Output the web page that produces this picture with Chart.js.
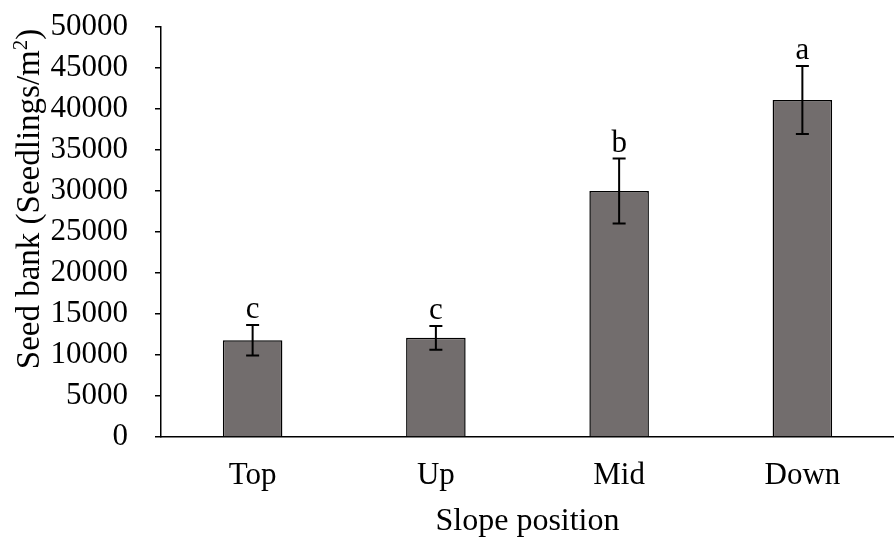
<!DOCTYPE html>
<html>
<head>
<meta charset="utf-8">
<script src="https://cdn.jsdelivr.net/npm/chart.js@4.4.0/dist/chart.umd.min.js"></script>
<style>
html,body{margin:0;padding:0;background:#fff;}
#wrap{width:894px;height:538px;position:relative;}
</style>
</head>
<body>
<div id="wrap"><canvas id="c" width="894" height="538"></canvas></div>
<script>
const categories = ["Top", "Up", "Mid", "Down"];
const seedBank = [11800, 12100, 30000, 41100];
const errors = [1850, 1450, 3950, 4150];
const letters = ["c", "c", "b", "a"];
const yTicks = [0, 5000, 10000, 15000, 20000, 25000, 30000, 35000, 40000, 45000, 50000];
const yTitleMain = "Seed bank (Seedlings/m";
const yTitleSup = "2";
const yTitleEnd = ")";
const xTitle = "Slope position";

const FONT = "'Liberation Serif', 'Times New Roman', serif";

const errorBarPlugin = {
  id: 'errorBars',
  afterDatasetsDraw(chart) {
    const ctx = chart.ctx;
    const meta = chart.getDatasetMeta(0);
    const y = chart.scales.y;
    ctx.save();
    ctx.strokeStyle = '#000';
    ctx.lineWidth = 2;
    meta.data.forEach((bar, i) => {
      const x = bar.x;
      const top = y.getPixelForValue(seedBank[i] + errors[i]);
      const bot = y.getPixelForValue(seedBank[i] - errors[i]);
      const cap = 6.5;
      ctx.beginPath();
      ctx.moveTo(x, top); ctx.lineTo(x, bot);
      ctx.moveTo(x - cap, top); ctx.lineTo(x + cap, top);
      ctx.moveTo(x - cap, bot); ctx.lineTo(x + cap, bot);
      ctx.stroke();
      ctx.fillStyle = '#000';
      ctx.font = "31px " + FONT;
      ctx.textAlign = 'center';
      ctx.textBaseline = 'alphabetic';
      ctx.fillText(letters[i], x, top - 7);
    });
    ctx.restore();
  }
};

const yTitlePlugin = {
  id: 'yTitle',
  afterDraw(chart) {
    const ctx = chart.ctx;
    ctx.save();
    ctx.fillStyle = '#000';
    const mainFont = "33px " + FONT;
    const supFont = "21px " + FONT;
    ctx.font = mainFont;
    const w1 = ctx.measureText(yTitleMain).width;
    const w3 = ctx.measureText(yTitleEnd).width;
    ctx.font = supFont;
    const w2 = ctx.measureText(yTitleSup).width;
    const total = w1 + w2 + w3;
    const cx = 39, cy = 199;
    ctx.translate(cx, cy);
    ctx.rotate(-Math.PI / 2);
    ctx.textBaseline = 'alphabetic';
    ctx.textAlign = 'left';
    let x = -total / 2;
    ctx.font = mainFont;
    ctx.fillText(yTitleMain, x, 0);
    x += w1;
    ctx.font = supFont;
    ctx.fillText(yTitleSup, x, -12);
    x += w2;
    ctx.font = mainFont;
    ctx.fillText(yTitleEnd, x, 0);
    ctx.restore();
  }
};

new Chart(document.getElementById('c'), {
  type: 'bar',
  data: {
    labels: categories,
    datasets: [{
      data: seedBank,
      backgroundColor: '#726d6d',
      borderColor: '#000',
      borderWidth: 1.5,
      categoryPercentage: 1,
      barPercentage: 0.325
    }]
  },
  options: {
    responsive: false,
    animation: false,
    devicePixelRatio: 1,
    layout: { padding: { left: 0, right: 0, top: 27, bottom: 0 } },
    plugins: { legend: { display: false }, tooltip: { enabled: false } },
    scales: {
      x: {
        grid: { display: false, drawTicks: false },
        border: { display: true, color: '#000', width: 1.5 },
        ticks: { color: '#000', font: { family: FONT, size: 31 }, padding: 20 },
        title: { display: true, text: xTitle, color: '#000', font: { family: FONT, size: 32 }, padding: { top: 10, bottom: -3 } },
        afterFit(scale) { scale.height = 101; scale.paddingLeft = 0; scale.paddingRight = 0; }
      },
      y: {
        min: 0, max: 50000,
        afterBuildTicks(scale) { scale.ticks = yTicks.map(v => ({ value: v })); },
        grid: { drawOnChartArea: false, drawTicks: true, tickLength: 6, color: '#000', lineWidth: 1.5 },
        border: { display: true, color: '#000', width: 1.5 },
        ticks: { color: '#000', font: { family: FONT, size: 31 }, padding: 27, autoSkip: false,
                 callback: (v) => String(v) },
        afterFit(scale) { scale.width = 161; scale.paddingTop = 0; scale.paddingBottom = 0; }
      }
    }
  },
  plugins: [errorBarPlugin, yTitlePlugin]
});
</script>
</body>
</html>
